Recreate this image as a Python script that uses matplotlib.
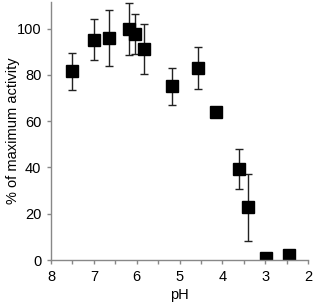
import numpy as np
import matplotlib
matplotlib.use("Agg")
import matplotlib.pyplot as plt
from matplotlib.ticker import MultipleLocator

plt.rcParams['font.family'] = ['Liberation Sans', 'DejaVu Sans']

# pH profile data
ph = [7.5, 7.0, 6.65, 6.17, 6.03, 5.82, 5.17, 4.56, 4.15, 3.61, 3.39, 2.97, 2.45]
activity = [81.5, 95.2, 96.0, 99.9, 97.7, 91.3, 75.0, 83.0, 63.8, 39.4, 22.8, 1.0, 2.2]
err = [8.0, 8.9, 12.1, 11.2, 8.8, 10.9, 8.0, 9.1, 2.2, 8.5, 14.4, 0.0, 0.0]

fig = plt.figure(figsize=(3.14, 3.08), dpi=100)
ax = fig.add_axes([51 / 314, 48 / 308, 257 / 314, 258 / 308])

ax.errorbar(ph, activity, yerr=err, fmt='s', color='black', ecolor='#222222',
            markersize=9, elinewidth=1, capsize=3, capthick=1)

ax.set_xlim(8, 2)
ax.set_ylim(0, 111.5)
ax.xaxis.set_major_locator(MultipleLocator(1))
ax.xaxis.set_minor_locator(MultipleLocator(0.5))
ax.yaxis.set_major_locator(MultipleLocator(20))

for s in ['top', 'right']:
    ax.spines[s].set_visible(False)
for s in ['left', 'bottom']:
    ax.spines[s].set_color('#888888')
    ax.spines[s].set_linewidth(1)

ax.tick_params(axis='both', which='both', color='#888888', labelsize=10.5, width=1)
ax.tick_params(axis='x', which='major', length=3, pad=4)
ax.tick_params(axis='x', which='minor', length=3)
ax.tick_params(axis='y', length=3, pad=4)

ax.set_xlabel('pH', fontsize=10.5, labelpad=3)
ax.set_ylabel('% of maximum activity', fontsize=10.5)
ax.yaxis.set_label_coords(-0.12, 0.5)

fig.savefig('out.png', dpi=100)
